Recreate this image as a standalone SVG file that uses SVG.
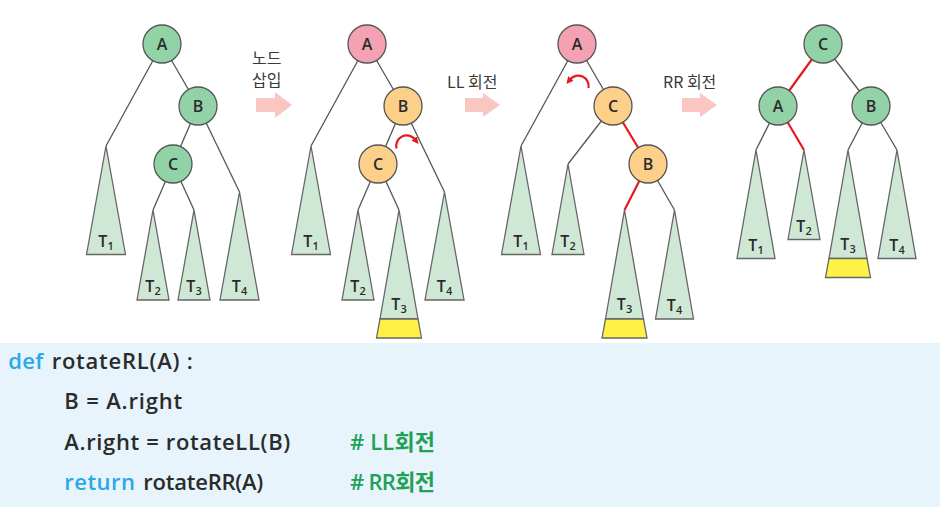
<svg xmlns="http://www.w3.org/2000/svg" width="940" height="507" viewBox="0 0 940 507">
<defs>
<style>
.edge{stroke:#555;stroke-width:1.3;fill:none}
.red{stroke:#e5191e;stroke-width:2.2;fill:none}
.nd{stroke:#555;stroke-width:1.3}
.g{fill:#92d2a7}
.p{fill:#f4a2b3}
.o{fill:#fdd08a}
.tri{fill:#cfe8d6;stroke:#666;stroke-width:1.3}
.yel{fill:#fff244;stroke:#666;stroke-width:1.3}
.nl{font-family:"Open Sans","Noto Sans","Liberation Sans",sans-serif;font-size:16px;font-weight:600;fill:#2b2b2b;text-anchor:middle}
.tl{font-family:"Open Sans","Noto Sans","Liberation Sans",sans-serif;font-size:16px;font-weight:600;fill:#2b2b2b;text-anchor:middle}
.sub{font-size:11px}
.lab{font-family:"Noto Sans CJK KR","Noto Sans",sans-serif;font-size:16px;font-weight:400;fill:#3a3a3a}
.arr{fill:#fac6c1}
.code{font-family:"Open Sans","Noto Sans","Noto Sans CJK KR",sans-serif;font-size:22px;font-weight:600;fill:#2b2b2b}
.kw{fill:#29a9e8}
.cm{fill:#22a055}
</style>
<marker id="ah" viewBox="0 0 10 10" refX="2" refY="5" markerWidth="3.2" markerHeight="3.2" orient="auto" markerUnits="strokeWidth">
<path d="M0,0 L10,5 L0,10 Z" fill="#e5191e"/>
</marker>
</defs>
<rect x="0" y="0" width="940" height="507" fill="#fff"/>

<g id="connectors">
<line class="edge" x1="162" y1="44" x2="106" y2="146"/>
<line class="edge" x1="162" y1="44" x2="198" y2="106"/>
<line class="edge" x1="198" y1="106" x2="173" y2="164"/>
<line class="edge" x1="198" y1="106" x2="239.5" y2="192"/>
<line class="edge" x1="173" y1="164" x2="153" y2="210"/>
<line class="edge" x1="173" y1="164" x2="194" y2="210"/>

<line class="edge" x1="367" y1="44" x2="311" y2="146"/>
<line class="edge" x1="367" y1="44" x2="403" y2="106"/>
<line class="edge" x1="403" y1="106" x2="378" y2="164"/>
<line class="edge" x1="403" y1="106" x2="444.5" y2="192"/>
<line class="edge" x1="378" y1="164" x2="358" y2="210"/>
<line class="edge" x1="378" y1="164" x2="399" y2="210"/>

<line class="edge" x1="577" y1="44" x2="521" y2="146"/>
<line class="edge" x1="577" y1="44" x2="613" y2="106"/>
<line class="edge" x1="613" y1="106" x2="568" y2="164"/>
<line class="red" x1="613" y1="106" x2="648" y2="164"/>
<line class="red" x1="648" y1="164" x2="624.5" y2="210"/>
<line class="edge" x1="648" y1="164" x2="674.5" y2="210"/>

<line class="red" x1="823" y1="44" x2="778" y2="106"/>
<line class="edge" x1="823" y1="44" x2="871" y2="106"/>
<line class="edge" x1="778" y1="106" x2="756" y2="150"/>
<line class="red" x1="778" y1="106" x2="804" y2="150"/>
<line class="edge" x1="871" y1="106" x2="848" y2="150"/>
<line class="edge" x1="871" y1="106" x2="897" y2="150"/>

<path class="red" d="M396.5,148.5 A10.5,10.5 0 0 1 415,139.5" marker-end="url(#ah)"/>
<path class="red" d="M588.5,88 A10.5,10.5 0 0 0 570,79.5" marker-end="url(#ah)"/>
</g>

<!-- Tree 1 -->
<g id="t1-T1"><polygon class="tri" points="106,146 86.5,254.5 125.5,254.5"/><text class="tl" x="106" y="247">T<tspan class="sub" dy="3">1</tspan></text></g>
<g id="t1-T2"><polygon class="tri" points="153,210 137,300 169,300"/><text class="tl" x="153" y="292">T<tspan class="sub" dy="3">2</tspan></text></g>
<g id="t1-T3"><polygon class="tri" points="194,210 178,300 210,300"/><text class="tl" x="194" y="292">T<tspan class="sub" dy="3">3</tspan></text></g>
<g id="t1-T4"><polygon class="tri" points="239.5,192 220,300 259,300"/><text class="tl" x="239.5" y="292">T<tspan class="sub" dy="3">4</tspan></text></g>
<g id="t1-A"><circle class="nd g" cx="162" cy="44" r="19"/><text class="nl" x="162" y="49.5">A</text></g>
<g id="t1-B"><circle class="nd g" cx="198" cy="106" r="19"/><text class="nl" x="198" y="111.5">B</text></g>
<g id="t1-C"><circle class="nd g" cx="173" cy="164" r="19"/><text class="nl" x="173" y="169.5">C</text></g>

<g id="arrow1">
<text class="lab" x="252" y="64">노드</text>
<text class="lab" x="252" y="86">삽입</text>
<polygon class="arr" points="256,98 275,98 275,92 292,105 275,118 275,112 256,112"/>
</g>

<!-- Tree 2 -->
<g id="t2-T1"><polygon class="tri" points="311,146 291.5,254.5 330.5,254.5"/><text class="tl" x="311" y="247">T<tspan class="sub" dy="3">1</tspan></text></g>
<g id="t2-T2"><polygon class="tri" points="358,210 342,300 374,300"/><text class="tl" x="358" y="292">T<tspan class="sub" dy="3">2</tspan></text></g>
<g id="t2-T3"><polygon class="tri" points="399,210 380,319 418,319"/><polygon class="yel" points="380,319 418,319 421.5,338 376.5,338"/><text class="tl" x="399" y="310">T<tspan class="sub" dy="3">3</tspan></text></g>
<g id="t2-T4"><polygon class="tri" points="444.5,192 425,300 464,300"/><text class="tl" x="444.5" y="292">T<tspan class="sub" dy="3">4</tspan></text></g>
<g id="t2-A"><circle class="nd p" cx="367" cy="44" r="19"/><text class="nl" x="367" y="49.5">A</text></g>
<g id="t2-B"><circle class="nd o" cx="403" cy="106" r="19"/><text class="nl" x="403" y="111.5">B</text></g>
<g id="t2-C"><circle class="nd o" cx="378" cy="164" r="19"/><text class="nl" x="378" y="169.5">C</text></g>

<g id="arrow2">
<text class="lab" x="447" y="88">LL 회전</text>
<polygon class="arr" points="465,98 483,98 483,93 500,105 483,117 483,112 465,112"/>
</g>

<!-- Tree 3 -->
<g id="t3-T1"><polygon class="tri" points="521,146 501.5,254.5 540.5,254.5"/><text class="tl" x="521" y="247">T<tspan class="sub" dy="3">1</tspan></text></g>
<g id="t3-T2"><polygon class="tri" points="568,164 552,254.5 584,254.5"/><text class="tl" x="568" y="247">T<tspan class="sub" dy="3">2</tspan></text></g>
<g id="t3-T3"><polygon class="tri" points="624.5,210 605.5,319 643.5,319"/><polygon class="yel" points="605.5,319 643.5,319 647,338 602,338"/><text class="tl" x="624.5" y="310">T<tspan class="sub" dy="3">3</tspan></text></g>
<g id="t3-T4"><polygon class="tri" points="674.5,210 655.5,319 693.5,319"/><text class="tl" x="674.5" y="311">T<tspan class="sub" dy="3">4</tspan></text></g>
<g id="t3-A"><circle class="nd p" cx="577" cy="44" r="19"/><text class="nl" x="577" y="49.5">A</text></g>
<g id="t3-C"><circle class="nd o" cx="613" cy="106" r="19"/><text class="nl" x="613" y="111.5">C</text></g>
<g id="t3-B"><circle class="nd o" cx="648" cy="164" r="19"/><text class="nl" x="648" y="169.5">B</text></g>

<g id="arrow3">
<text class="lab" x="663" y="88">RR 회전</text>
<polygon class="arr" points="682,98 700,98 700,93 717,105 700,117 700,112 682,112"/>
</g>

<!-- Tree 4 -->
<g id="t4-T1"><polygon class="tri" points="756,150 737,258.5 775,258.5"/><text class="tl" x="756" y="251">T<tspan class="sub" dy="3">1</tspan></text></g>
<g id="t4-T2"><polygon class="tri" points="804,150 788,239.5 820,239.5"/><text class="tl" x="804" y="232">T<tspan class="sub" dy="3">2</tspan></text></g>
<g id="t4-T3"><polygon class="tri" points="848,150 829,258.5 867,258.5"/><polygon class="yel" points="829,258.5 867,258.5 870.5,277.5 825.5,277.5"/><text class="tl" x="848" y="250">T<tspan class="sub" dy="3">3</tspan></text></g>
<g id="t4-T4"><polygon class="tri" points="897,150 878,258.5 916,258.5"/><text class="tl" x="897" y="251">T<tspan class="sub" dy="3">4</tspan></text></g>
<g id="t4-C"><circle class="nd g" cx="823" cy="44" r="19"/><text class="nl" x="823" y="49.5">C</text></g>
<g id="t4-A"><circle class="nd g" cx="778" cy="106" r="19"/><text class="nl" x="778" y="111.5">A</text></g>
<g id="t4-B"><circle class="nd g" cx="871" cy="106" r="19"/><text class="nl" x="871" y="111.5">B</text></g>

<!-- Code -->
<g id="code">
<rect x="0" y="343" width="940" height="164" fill="#e7f4fc"/>
<text class="code kw" x="8.3" y="369" textLength="35" lengthAdjust="spacing">def</text>
<text class="code" x="51.7" y="369" textLength="141" lengthAdjust="spacing">rotateRL(A) :</text>
<text class="code" x="64.3" y="409" textLength="118" lengthAdjust="spacing">B = A.right</text>
<text class="code" x="64.3" y="450" textLength="226" lengthAdjust="spacing">A.right = rotateLL(B)</text>
<text class="code cm" x="350" y="450" textLength="85" lengthAdjust="spacing"># LL회전</text>
<text class="code kw" x="64.3" y="490" textLength="70.7" lengthAdjust="spacing">return</text>
<text class="code" x="143.3" y="490" textLength="120" lengthAdjust="spacing">rotateRR(A)</text>
<text class="code cm" x="350" y="490" textLength="85" lengthAdjust="spacing"># RR회전</text>
</g>
</svg>
